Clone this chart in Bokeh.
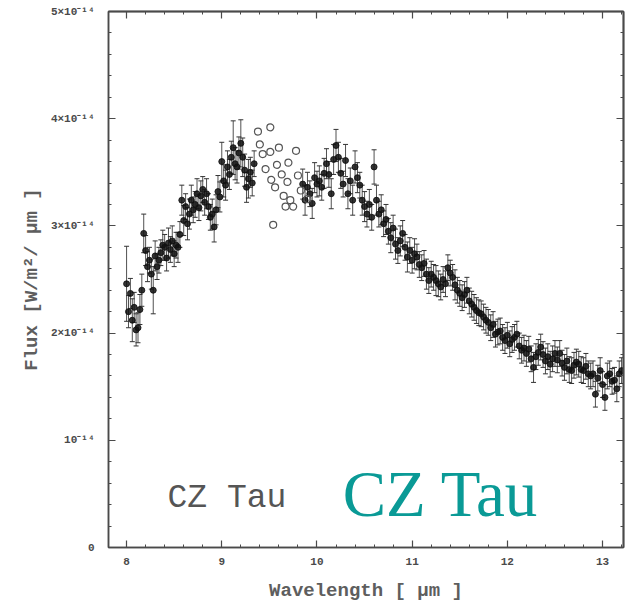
from bokeh.plotting import figure
from bokeh.models import (ColumnDataSource, Whisker, Label, LinearAxis,
                          SingleIntervalTicker, FixedTicker, TeeHead)
from bokeh.embed import file_html
from bokeh.resources import INLINE

# ---- data (flux in units of 1e-14 W/m^2/um) ----
wl_filled = [
    8.00, 8.02, 8.04, 8.06, 8.08, 8.10, 8.12, 8.14, 8.16, 8.18,
    8.20, 8.22, 8.24, 8.26, 8.28, 8.30, 8.32, 8.34, 8.36, 8.38,
    8.40, 8.42, 8.44, 8.46, 8.48, 8.50, 8.52, 8.54, 8.56, 8.58,
    8.60, 8.62, 8.64, 8.66, 8.68, 8.70, 8.72, 8.74, 8.76, 8.78,
    8.80, 8.82, 8.84, 8.86, 8.88, 8.90, 8.92, 8.94, 8.96, 8.98,
    9.00, 9.02, 9.04, 9.06, 9.08, 9.10, 9.12, 9.14, 9.16, 9.18,
    9.20, 9.22, 9.24, 9.26, 9.28, 9.30, 9.32, 9.34,
    9.850, 9.875, 9.900, 9.925, 9.950, 9.975, 10.000, 10.025, 10.050, 10.075,
    10.100, 10.125, 10.150, 10.175, 10.200, 10.225, 10.250, 10.275, 10.300, 10.325,
    10.350, 10.375, 10.400, 10.425, 10.450, 10.475, 10.500, 10.525, 10.550, 10.575,
    10.600, 10.625, 10.650, 10.675, 10.700, 10.725, 10.750, 10.775, 10.800, 10.825,
    10.850, 10.875, 10.900, 10.925, 10.950, 10.975, 11.000, 11.025, 11.050, 11.075,
    11.100, 11.125, 11.150, 11.175, 11.200, 11.225, 11.250, 11.275, 11.300, 11.325,
    11.350, 11.375, 11.400, 11.425, 11.450, 11.475, 11.500, 11.525, 11.550, 11.575,
    11.600, 11.625, 11.650, 11.675, 11.700, 11.725, 11.750, 11.775, 11.800, 11.825,
    11.850, 11.875, 11.900, 11.925, 11.950, 11.975, 12.000, 12.025, 12.050, 12.075,
    12.100, 12.125, 12.150, 12.175, 12.200, 12.225, 12.250, 12.275, 12.300, 12.325,
    12.350, 12.375, 12.400, 12.425, 12.450, 12.475, 12.500, 12.525, 12.550, 12.575,
    12.600, 12.625, 12.650, 12.675, 12.700, 12.725, 12.750, 12.775, 12.800, 12.825,
    12.850, 12.875, 12.900, 12.925, 12.950, 12.975, 13.000, 13.025, 13.050, 13.075,
    13.100, 13.125, 13.150, 13.175, 13.200,
]
flux_filled = [
    2.46, 2.20, 2.37, 2.12, 2.24, 2.03, 2.05, 2.22, 2.40, 2.93,
    2.77, 2.62, 2.68, 2.55, 2.40, 2.72, 2.62, 2.68, 2.75, 2.82,
    2.80, 2.70, 2.84, 2.78, 2.86, 2.74, 2.82, 2.80, 2.92, 3.24,
    3.05, 3.18, 3.02, 3.11, 3.24, 3.15, 3.20, 3.30, 3.17, 3.28,
    3.34, 3.22, 3.30, 3.18, 3.08, 3.11, 2.99, 3.15, 3.32, 3.27,
    3.60, 3.42, 3.38, 3.55, 3.48, 3.64, 3.73, 3.58, 3.55, 3.68,
    3.77, 3.64, 3.52, 3.36, 3.44, 3.50, 3.40, 3.58,
    3.39, 3.24, 3.36, 3.30, 3.21, 3.45, 3.39, 3.42, 3.36, 3.49,
    3.58, 3.48, 3.30, 3.62, 3.75, 3.64, 3.49, 3.39, 3.61, 3.30,
    3.42, 3.24, 3.55, 3.45, 3.38, 3.24, 3.18, 3.11, 3.20, 3.08,
    3.55, 3.24, 3.11, 3.15, 3.02, 3.06, 2.95, 2.89, 2.98, 2.83,
    2.77, 2.86, 2.93, 2.80, 2.71, 2.77, 2.68, 2.74, 2.71, 2.64,
    2.61, 2.65, 2.55, 2.49, 2.55, 2.52, 2.49, 2.46, 2.43, 2.50,
    2.46, 2.61, 2.56, 2.52, 2.45, 2.40, 2.37, 2.33, 2.36, 2.40,
    2.30, 2.27, 2.24, 2.21, 2.19, 2.18, 2.15, 2.12, 2.10, 2.05,
    2.08, 1.99, 2.01, 2.02, 1.96, 1.93, 1.98, 1.90, 1.94, 1.96,
    1.99, 1.88, 1.84, 1.86, 1.81, 1.85, 1.76, 1.68, 1.78, 1.82,
    1.87, 1.80, 1.74, 1.78, 1.71, 1.76, 1.81, 1.75, 1.81, 1.72,
    1.68, 1.74, 1.66, 1.65, 1.70, 1.73, 1.71, 1.66, 1.65, 1.69,
    1.62, 1.60, 1.62, 1.43, 1.58, 1.65, 1.52, 1.40, 1.60, 1.62,
    1.55, 1.56, 1.48, 1.62, 1.65,
]
err_filled = [
    0.35, 0.15, 0.14, 0.20, 0.14, 0.15, 0.14, 0.14, 0.15, 0.18,
    0.14, 0.14, 0.12, 0.14, 0.22, 0.14, 0.12, 0.12, 0.12, 0.14,
    0.12, 0.12, 0.14, 0.12, 0.14, 0.12, 0.12, 0.14, 0.12, 0.14,
    0.14, 0.12, 0.15, 0.14, 0.14, 0.12, 0.12, 0.14, 0.12, 0.14,
    0.12, 0.12, 0.14, 0.12, 0.12, 0.14, 0.14, 0.14, 0.15, 0.14,
    0.18, 0.15, 0.14, 0.15, 0.14, 0.15, 0.25, 0.15, 0.15, 0.15,
    0.22, 0.18, 0.15, 0.14, 0.18, 0.14, 0.12, 0.12,
    0.14, 0.14, 0.14, 0.12, 0.14, 0.14, 0.12, 0.14, 0.12, 0.14,
    0.14, 0.12, 0.14, 0.14, 0.15, 0.14, 0.14, 0.12, 0.15, 0.14,
    0.12, 0.14, 0.15, 0.14, 0.12, 0.14, 0.14, 0.12, 0.14, 0.12,
    0.16, 0.14, 0.12, 0.14, 0.12, 0.14, 0.12, 0.14, 0.12, 0.14,
    0.12, 0.14, 0.12, 0.12, 0.14, 0.12, 0.12, 0.14, 0.12, 0.12,
    0.12, 0.12, 0.14, 0.12, 0.12, 0.12, 0.14, 0.12, 0.12, 0.12,
    0.12, 0.12, 0.12, 0.12, 0.14, 0.12, 0.12, 0.12, 0.12, 0.12,
    0.12, 0.12, 0.12, 0.12, 0.12, 0.12, 0.12, 0.12, 0.12, 0.12,
    0.12, 0.12, 0.12, 0.12, 0.12, 0.12, 0.12, 0.12, 0.12, 0.12,
    0.12, 0.12, 0.12, 0.12, 0.12, 0.12, 0.12, 0.14, 0.12, 0.12,
    0.12, 0.12, 0.12, 0.12, 0.12, 0.12, 0.12, 0.12, 0.12, 0.12,
    0.12, 0.12, 0.12, 0.12, 0.12, 0.12, 0.12, 0.12, 0.12, 0.12,
    0.12, 0.12, 0.12, 0.12, 0.12, 0.12, 0.12, 0.12, 0.12, 0.12,
    0.12, 0.12, 0.12, 0.12, 0.12,
]
wl_open = [9.38, 9.51, 9.40, 9.43, 9.51, 9.60, 9.78, 9.46, 9.58, 9.70, 9.52,
           9.63, 9.80, 9.56, 9.69, 9.83, 9.65, 9.72, 9.67, 9.75, 9.90, 9.54]
flux_open = [3.88, 3.92, 3.76, 3.67, 3.69, 3.73, 3.70, 3.53, 3.57, 3.59, 3.43,
             3.48, 3.47, 3.36, 3.41, 3.33, 3.28, 3.24, 3.18, 3.18, 3.25, 3.01]

y_tick_labels = {0: "0", 1: "10⁻¹⁴", 2: "2×10⁻¹⁴", 3: "3×10⁻¹⁴",
                 4: "4×10⁻¹⁴", 5: "5×10⁻¹⁴"}
x_label = "Wavelength [ μm ]"
y_label = "Flux [W/m²/ μm ]"
name = "CZ Tau"

# ---- figure ----
AX = "#4a4a4a"
MONO = "Liberation Mono"
X0, X1, Y0, Y1 = 7.81, 13.22, 0.0, 5.0

p = figure(width=626, height=605, x_range=(X0, X1), y_range=(Y0, Y1),
           output_backend="svg", toolbar_location=None,
           min_border_left=108, min_border_right=3, min_border_top=11,
           min_border_bottom=58)
p.background_fill_color = "white"
p.border_fill_color = "white"
p.grid.visible = False
p.outline_line_color = AX
p.outline_line_width = 1.5

p.xaxis.ticker = SingleIntervalTicker(interval=1, num_minor_ticks=5)
p.yaxis.ticker = SingleIntervalTicker(interval=1, num_minor_ticks=5)
p.yaxis.major_label_overrides = y_tick_labels

for ax in (p.xaxis[0], p.yaxis[0]):
    ax.axis_line_color = AX
    ax.axis_line_width = 1.5
    ax.major_tick_line_color = AX
    ax.minor_tick_line_color = AX
    ax.major_tick_in = 7
    ax.major_tick_out = 0
    ax.minor_tick_in = 3
    ax.minor_tick_out = 0
    ax.major_tick_line_width = 1.2
    ax.minor_tick_line_width = 1.0
    ax.major_label_text_font = MONO
    ax.major_label_text_font_style = "bold"
    ax.major_label_text_color = AX
    ax.axis_label_text_font = MONO
    ax.axis_label_text_font_style = "bold"
    ax.axis_label_text_color = "#5e5e5e"
    ax.axis_label_text_font_size = "19px"

p.xaxis.major_label_text_font_size = "11px"
p.yaxis.major_label_text_font_size = "11px"
p.xaxis.major_label_standoff = 10
p.yaxis.major_label_standoff = 14
p.xaxis.axis_label = x_label
p.yaxis.axis_label = y_label
p.xaxis.axis_label_standoff = 12
p.yaxis.axis_label_standoff = 5

# mirrored ticks on top and right (no labels): major and minor positions
def tick_pos(lo, hi, step):
    out, v = [], 0.0
    while v <= hi + 1e-9:
        if v >= lo - 1e-9:
            out.append(round(v, 4))
        v += step
    return out

x_major = tick_pos(X0, X1, 1.0)
x_minor = [t for t in tick_pos(X0, X1, 0.2) if t not in x_major]
y_major = tick_pos(Y0, Y1, 1.0)
y_minor = [t for t in tick_pos(Y0, Y1, 0.2) if t not in y_major]

for side, majors, minors in (("above", x_major, x_minor), ("right", y_major, y_minor)):
    for pos, length in ((majors, 7), (minors, 3)):
        a = LinearAxis(ticker=FixedTicker(ticks=[], minor_ticks=pos))
        a.axis_line_color = AX
        a.axis_line_width = 1.5
        a.minor_tick_line_color = AX
        a.minor_tick_line_width = 1.2 if length == 7 else 1.0
        a.minor_tick_in = length
        a.minor_tick_out = 0
        a.major_tick_in = 0
        a.major_tick_out = 0
        a.major_label_standoff = 0
        p.add_layout(a, side)

src = ColumnDataSource(dict(
    x=wl_filled, y=flux_filled,
    lo=[f - e for f, e in zip(flux_filled, err_filled)],
    hi=[f + e for f, e in zip(flux_filled, err_filled)],
))
wh = Whisker(source=src, base="x", upper="hi", lower="lo",
             line_color="#333333", line_width=1, line_alpha=0.85,
             upper_head=TeeHead(size=5, line_color="#333333", line_width=1),
             lower_head=TeeHead(size=5, line_color="#333333", line_width=1))
p.add_layout(wh)
p.scatter("x", "y", source=src, size=6, color="#111111", alpha=0.85)

p.scatter(wl_open, flux_open, size=7, fill_color=None, line_color="#555555",
          line_width=1.2)

p.add_layout(Label(x=8.43, y=0.46, text=name, text_font=MONO,
                   text_font_size="33px", text_color="#555555",
                   text_baseline="alphabetic"))
p.add_layout(Label(x=10.27, y=0.50, text=name, text_font="Liberation Serif",
                   text_font_size="65px", text_color="#0a9a96",
                   text_baseline="alphabetic"))

open("out.html", "w").write(file_html(p, INLINE))
